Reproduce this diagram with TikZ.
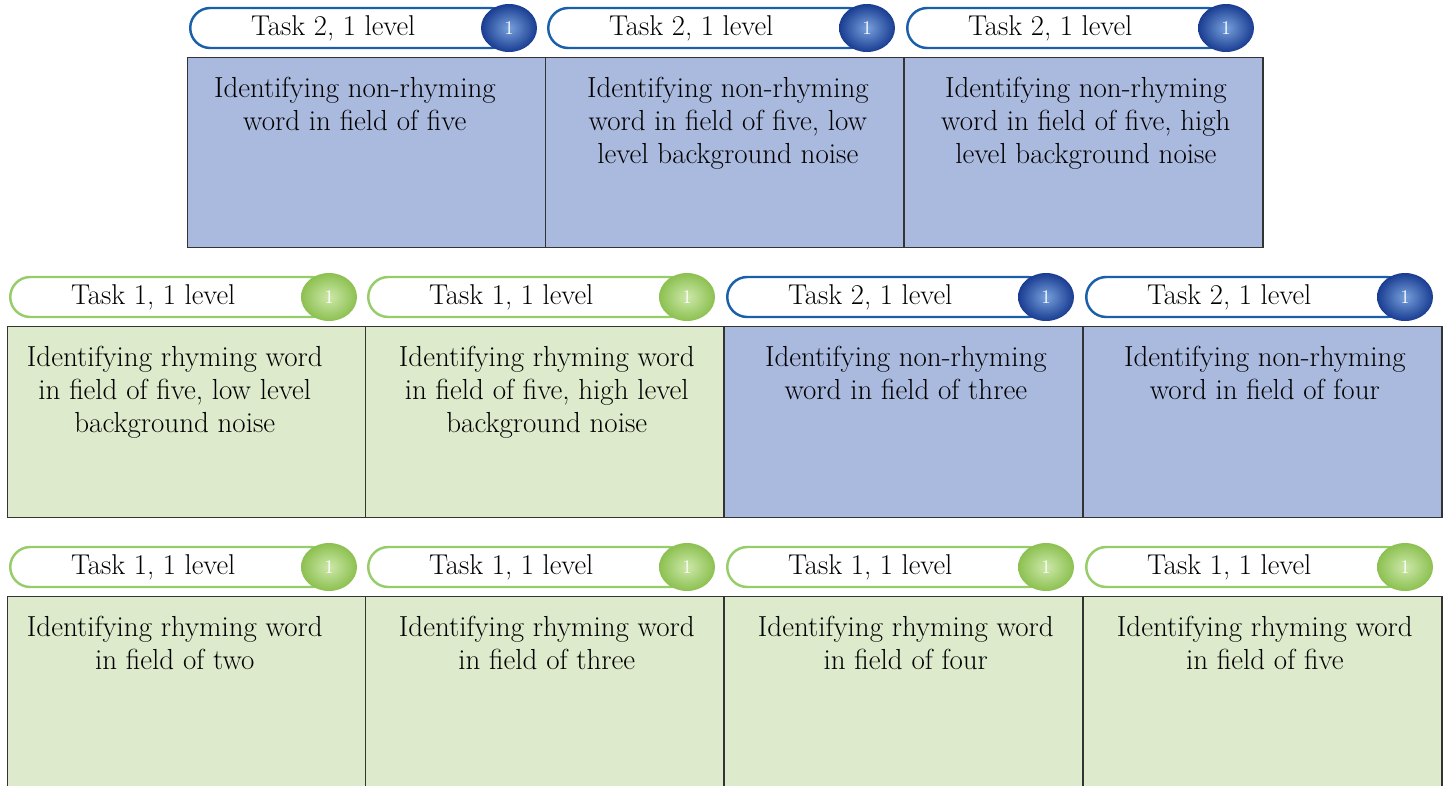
\documentclass[tikz,border=0pt]{standalone}
\usetikzlibrary{positioning,shapes.geometric}
\definecolor{taskblue}{RGB}{170,185,222}
\definecolor{taskgreen}{RGB}{222,234,204}
\definecolor{pillblue}{RGB}{25,95,170}
\definecolor{pillgreen}{RGB}{150,205,105}
\definecolor{badgeblue}{RGB}{25,60,145}
\definecolor{badgebluelight}{RGB}{120,160,220}
\definecolor{badgegreen}{RGB}{140,192,80}
\definecolor{badgegreenlight}{RGB}{205,232,170}

\tikzset{
  taskbox/.style={draw=black!80, line width=0.7pt, minimum width=7.17cm,
    anchor=north west, inner sep=0pt},
  boxtext/.style={anchor=north, align=center, inner sep=0pt,
    font=\fontsize{16.5}{18.8}\selectfont},
  pill/.style={draw=#1, line width=1.4pt, fill=white, rounded corners=0.4cm,
    minimum width=6.4cm, minimum height=0.8cm, anchor=west, inner sep=0pt},
  tasklabel/.style={inner sep=0pt, font=\fontsize{16.3}{18}\selectfont},
  badge/.style={ellipse, minimum width=1.12cm, minimum height=0.96cm,
    inner sep=0pt, text=white, font=\fontsize{11}{11}\selectfont,
    inner color=badge#1light, outer color=badge#1}
}

\begin{document}
\begin{tikzpicture}[x=0.02cm,y=-0.02cm]
\clip (0,0) rectangle (1447,785);
% x, top of box, height, colour, task, text shift, text
\foreach \x/\y/\h/\kind/\tsk/\dx/\txt [count=\i] in {
  187/57/3.8/blue/2/-0.24/{Identifying non-rhyming\\word in field of five},
  545/57/3.8/blue/2/0.06/{Identifying non-rhyming\\word in field of five, low\\level background noise},
  904/57/3.8/blue/2/0.04/{Identifying non-rhyming\\word in field of five, high\\level background noise},
  7/326/3.82/green/1/-0.24/{Identifying rhyming word\\in field of five, low level\\background noise},
  365/326/3.82/green/1/0.04/{Identifying rhyming word\\in field of five, high level\\background noise},
  724/326/3.82/blue/2/0.04/{Identifying non-rhyming\\word in field of three},
  1083/326/3.82/blue/2/0.04/{Identifying non-rhyming\\word in field of four},
  7/596/4.0/green/1/-0.24/{Identifying rhyming word\\in field of two},
  365/596/4.0/green/1/0.04/{Identifying rhyming word\\in field of three},
  724/596/4.0/green/1/0.04/{Identifying rhyming word\\in field of four},
  1083/596/4.0/green/1/0.04/{Identifying rhyming word\\in field of five}}{
  \node[taskbox, fill=task\kind, minimum height=\h cm] (box\i) at (\x,\y) {};
  \node[boxtext] (txt\i) at ([xshift=\dx cm, yshift=-0.4cm]box\i.north) {\txt};
  % tab on top
  \node[pill=pill\kind] (pill\i) at (\x+2,\y-29) {};
  \node[tasklabel] (lbl\i) at ([xshift=-0.34cm]pill\i.center) {Task \tsk, 1 level};
  \node[badge=\kind] (badge\i) at (\x+322,\y-29) {1};
}
\end{tikzpicture}
\end{document}
